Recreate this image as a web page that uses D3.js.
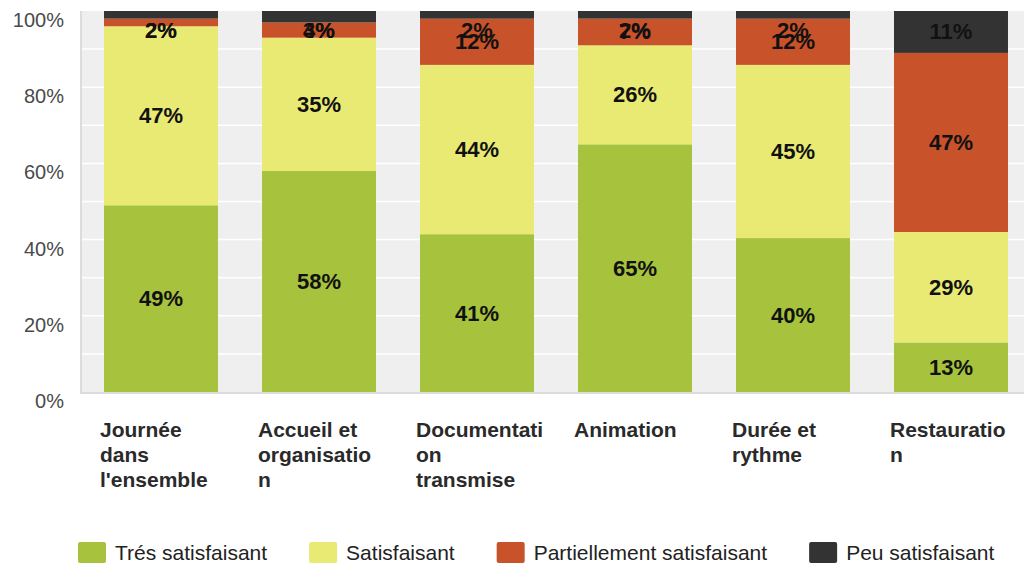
<!DOCTYPE html>
<html>
<head>
<meta charset="utf-8">
<script src="https://cdn.jsdelivr.net/npm/d3@7"></script>
<style>
  body { margin: 0; background: #fff; }
  text { font-family: "Liberation Sans", Arial, sans-serif; }
</style>
</head>
<body>
<div id="container"></div>
<script>
const categories = ["Journée dans l'ensemble", "Accueil et organisation", "Documentation transmise", "Animation", "Durée et rythme", "Restauration"]
// the wrapped labels as they show under the bars
const categoryLines = [
    ["Journée", "dans", "l'ensemble"],
    ["Accueil et", "organisatio", "n"],
    ["Documentati", "on", "transmise"],
    ["Animation"],
    ["Durée et", "rythme"],
    ["Restauratio", "n"]
]
const seriesNames = ["Trés satisfaisant", "Satisfaisant", "Partiellement satisfaisant", "Peu satisfaisant"]
const tresSatisfaisant = [49, 58, 41, 65, 40, 13]
const satisfaisant = [47, 35, 44, 26, 45, 29]
const partiellement = [2, 4, 12, 7, 12, 47]
const peuSatisfaisant = [2, 3, 2, 2, 2, 11]
const yTicks = [0, 20, 40, 60, 80, 100]

const colors = ["#a7c23d", "#e8ea74", "#c85229", "#333333"]

const width = 1024, height = 563
const margin = { top: 11, left: 80, bottom: 392 }

const svg = d3.select('#container').append('svg')
    .attr('width', width).attr('height', height)

const rows = categories.map((c, i) => ({
    cat: c,
    s0: tresSatisfaisant[i], s1: satisfaisant[i], s2: partiellement[i], s3: peuSatisfaisant[i]
}))
const keys = ["s0", "s1", "s2", "s3"]
const stacked = d3.stack().keys(keys).offset(d3.stackOffsetExpand)(rows)

const x = d3.scaleBand().domain(categories).range([80, 1032]).paddingInner(0.2785).paddingOuter(0.152)
const y = d3.scaleLinear().domain([0, 1]).range([margin.bottom, margin.top])

// plot background
svg.append('rect')
    .attr('x', margin.left).attr('y', margin.top)
    .attr('width', width - margin.left).attr('height', margin.bottom - margin.top)
    .attr('fill', '#efefef')
svg.append('line')
    .attr('x1', margin.left + 1).attr('x2', margin.left + 1)
    .attr('y1', margin.top).attr('y2', margin.bottom + 1)
    .attr('stroke', '#dcdcdc').attr('stroke-width', 2)
svg.append('line')
    .attr('x1', margin.left).attr('x2', width)
    .attr('y1', margin.bottom + 1).attr('y2', margin.bottom + 1)
    .attr('stroke', '#dcdcdc').attr('stroke-width', 2)

// white gridlines every 10%
svg.selectAll('.grid')
    .data(d3.range(0.1, 1, 0.1))
    .enter().append('line')
    .attr('class', 'grid')
    .attr('x1', margin.left + 2).attr('x2', width)
    .attr('y1', d => y(d)).attr('y2', d => y(d))
    .attr('stroke', '#fff').attr('stroke-width', 1.5)

// y axis labels
svg.selectAll('.ytick')
    .data(yTicks)
    .enter().append('text')
    .attr('class', 'ytick')
    .attr('x', 64)
    .attr('y', d => y(d / 100) + 9)
    .attr('text-anchor', 'end')
    .attr('dominant-baseline', 'central')
    .attr('font-size', 20)
    .attr('fill', '#4a4a4a')
    .text(d => d + '%')

// bars
const layers = svg.selectAll('.layer')
    .data(stacked)
    .enter().append('g')
    .attr('class', 'layer')
    .attr('fill', (d, i) => colors[i])

layers.selectAll('rect')
    .data(d => d)
    .enter().append('rect')
    .attr('x', d => x(d.data.cat))
    .attr('width', x.bandwidth())
    .attr('y', d => y(d[1]))
    .attr('height', d => y(d[0]) - y(d[1]))

// value labels, kept below the top edge
layers.selectAll('.val')
    .data((d, i) => d.map(p => ({ p: p, v: p.data[keys[i]] })))
    .enter().append('text')
    .attr('class', 'val')
    .attr('x', d => x(d.p.data.cat) + x.bandwidth() / 2)
    .attr('y', d => Math.max((y(d.p[0]) + y(d.p[1])) / 2, margin.top + 19))
    .attr('text-anchor', 'middle')
    .attr('dominant-baseline', 'central')
    .attr('font-size', 22)
    .attr('font-weight', 'bold')
    .attr('fill', '#111')
    .text(d => d.v + '%')

// category labels
const catG = svg.selectAll('.cat')
    .data(categories)
    .enter().append('text')
    .attr('class', 'cat')
    .attr('x', d => x(d) - 4)
    .attr('y', 437)
    .attr('font-size', 21)
    .attr('font-weight', 'bold')
    .attr('fill', '#2a2a2a')
catG.selectAll('tspan')
    .data((d, i) => categoryLines[i])
    .enter().append('tspan')
    .attr('x', function () { return d3.select(this.parentNode).attr('x') })
    .attr('dy', (d, i) => i === 0 ? 0 : 25)
    .text(d => d)

// legend
let lx = 78
seriesNames.forEach((name, i) => {
    const g = svg.append('g')
    g.append('rect')
        .attr('x', lx).attr('y', 542)
        .attr('width', 28).attr('height', 21)
        .attr('rx', 2)
        .attr('fill', colors[i])
    const t = g.append('text')
        .attr('x', lx + 37).attr('y', 560)
        .attr('font-size', 21)
        .attr('fill', '#222')
        .text(name)
    lx += 37 + t.node().getComputedTextLength() + 42
})
</script>
</body>
</html>
